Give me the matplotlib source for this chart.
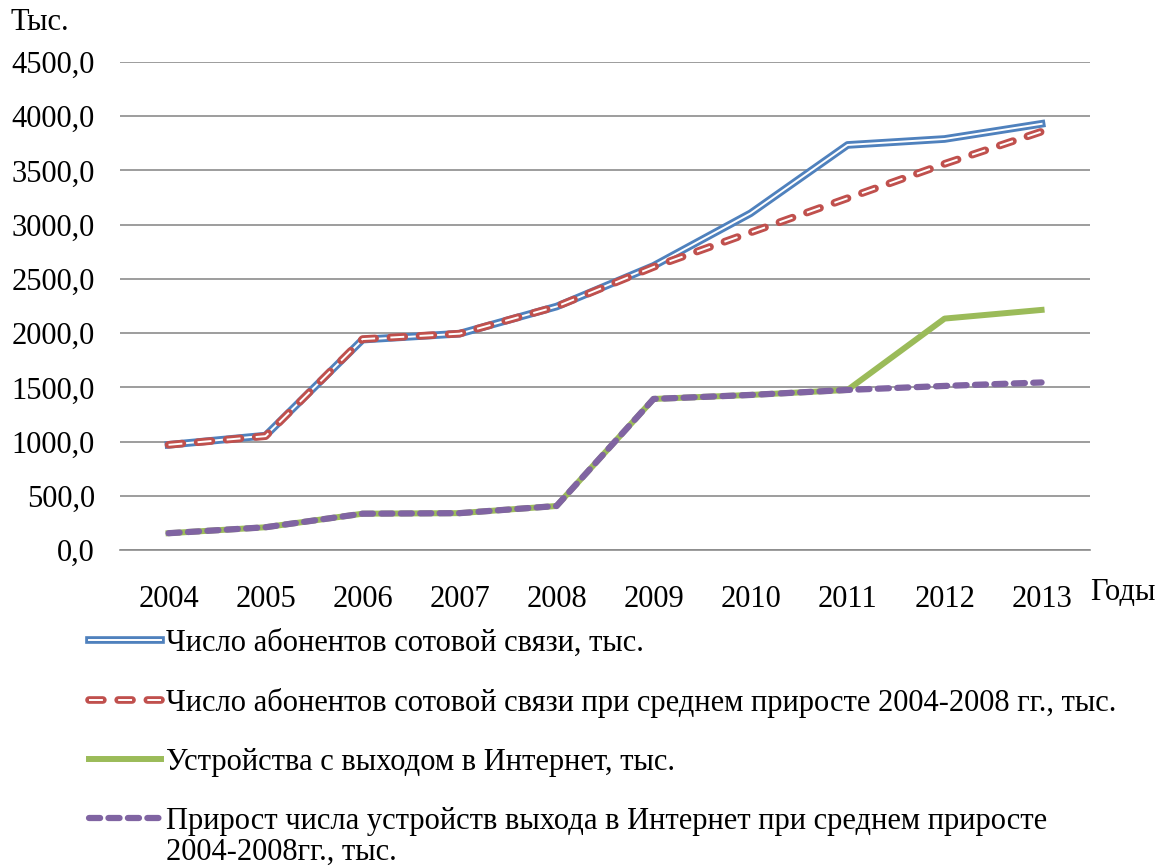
import matplotlib
matplotlib.use("Agg")
import matplotlib.pyplot as plt
import matplotlib.patheffects as pe
from matplotlib.ticker import FuncFormatter

# значения, тыс.
years = ["2004", "2005", "2006", "2007", "2008", "2009", "2010", "2011", "2012", "2013"]
subscribers = [970, 1055, 1940, 1995, 2245, 2620, 3105, 3735, 3790, 3930]
subscribers_avg = [970, 1050, 1945, 1995, 2245, 2610, 2928, 3244, 3561, 3858]
internet = [155, 210, 335, 340, 406, 1393, 1430, 1476, 2134, 2214]
internet_avg = [155, 210, 335, 340, 406, 1393, 1430, 1476, 1513, 1545]

labels = [
    "Число абонентов сотовой связи, тыс.",
    "Число абонентов сотовой связи при среднем приросте 2004-2008 гг., тыс.",
    "Устройства с выходом в Интернет, тыс.",
    "Прирост числа устройств выхода в Интернет при среднем приросте",
]
label_tail = "2004-2008гг., тыс."

plt.rcParams["font.family"] = ["Liberation Serif", "DejaVu Serif"]
plt.rcParams["lines.scale_dashes"] = False
FS = 22


def fmt(v, pos):
    return f"{v:.1f}".replace(".", ",")


def main():
    fig = plt.figure(figsize=(11.62, 8.67), dpi=100)
    ax = fig.add_axes([0.1033, 0.3656, 0.8348, 0.5629])

    x = list(range(len(years)))

    ax.plot(x, subscribers, color="white", lw=1.4, solid_joinstyle="round",
            path_effects=[pe.Stroke(linewidth=5.5, foreground="#4F81BD"), pe.Normal()],
            label=labels[0], zorder=3)
    ax.plot(x, subscribers_avg, color="white", lw=1.4, dashes=(10, 11),
            path_effects=[pe.Stroke(linewidth=5.5, foreground="#C0504D", capstyle="round"), pe.Normal()],
            label=labels[1], zorder=4)
    ax.plot(x, internet, color="#9BBB59", lw=4.3, solid_joinstyle="round",
            label=labels[2], zorder=5)
    ax.plot(x, internet_avg, color="#8064A2", lw=4.5, dashes=(8, 6),
            dash_capstyle="round", label=labels[3], zorder=6)

    ax.set_xlim(-0.5, len(years) - 0.5)
    ax.set_ylim(0, 4500)
    ax.set_yticks(range(0, 4501, 500))
    ax.yaxis.set_major_formatter(FuncFormatter(fmt))
    ax.set_xticks(x)
    ax.set_xticklabels(years)
    ax.tick_params(axis="both", length=0, labelsize=FS)
    ax.tick_params(axis="y", pad=18)
    ax.tick_params(axis="x", pad=25)

    ax.grid(axis="y", color="#8C8C8C", lw=1.2)
    ax.set_axisbelow(True)
    for side in ["left", "right", "top"]:
        ax.spines[side].set_visible(False)
    ax.spines["bottom"].set_color("#8C8C8C")
    ax.spines["bottom"].set_linewidth(1.2)

    fig.text(0.009, 0.974, "Тыс.", fontsize=FS, va="center", ha="left")
    ax.text(1.0, -0.088, "Годы", transform=ax.transAxes, fontsize=FS,
            va="center", ha="left")

    leg = fig.legend(loc="upper left", bbox_to_anchor=(0.0765, 0.2745), frameon=False,
                     fontsize=FS, handlelength=2.35, handletextpad=0.17,
                     labelspacing=0.98, borderaxespad=0, borderpad=0)

    # вторая строка последней подписи легенды, чуть ниже первой
    fig.canvas.draw()
    bb = leg.get_texts()[3].get_window_extent()
    w, h = fig.canvas.get_width_height()
    fig.text(bb.x0 / w, (bb.y0 - 31) / h, label_tail, fontsize=FS,
             ha="left", va="bottom")

    fig.savefig("out.png", dpi=100)


if __name__ == "__main__":
    main()
